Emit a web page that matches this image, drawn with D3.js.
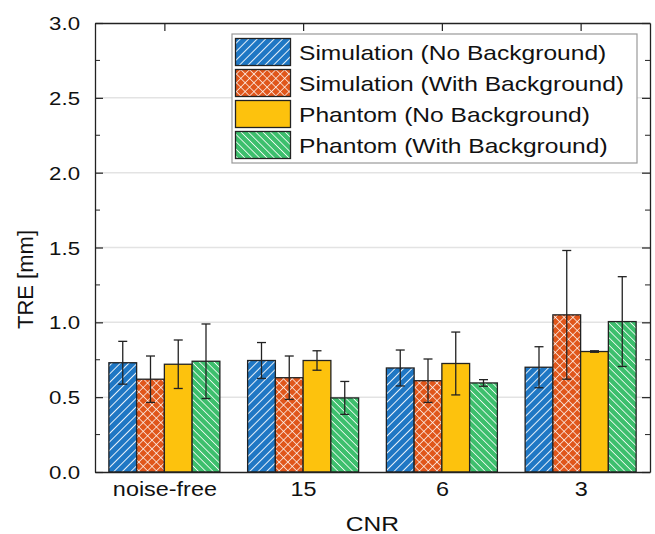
<!DOCTYPE html>
<html>
<head>
<meta charset="utf-8">
<script src="https://cdn.jsdelivr.net/npm/d3@7"></script>
<style>
  body { margin: 0; background: #fff; }
  svg text { font-family: "Liberation Sans", Arial, sans-serif; fill: #111; }
</style>
</head>
<body>
<svg id="chart" width="655" height="534"></svg>
<script>
// categories on the x axis
const categories = ["noise-free", "15", "6", "3"];
const seriesNames = [
  "Simulation (No Background)",
  "Simulation (With Background)",
  "Phantom (No Background)",
  "Phantom (With Background)"
];
// mean TRE per series, one value per category
const simNoBg   = [0.73, 0.745, 0.695, 0.70];
const simWithBg = [0.62, 0.63, 0.61, 1.05];
const phNoBg    = [0.72, 0.745, 0.725, 0.805];
const phWithBg  = [0.74, 0.495, 0.595, 1.005];
// error (± sd) per series
const simNoBgErr   = [0.143, 0.12, 0.12, 0.137];
const simWithBgErr = [0.155, 0.145, 0.145, 0.43];
const phNoBgErr    = [0.162, 0.065, 0.21, 0.005];
const phWithBgErr  = [0.249, 0.11, 0.022, 0.30];
const yTicks = [0, 0.5, 1.0, 1.5, 2.0, 2.5, 3.0];

const series = [
  { name: seriesNames[0], values: simNoBg,   err: simNoBgErr,   color: "#1f77c4", pat: "p-blue" },
  { name: seriesNames[1], values: simWithBg, err: simWithBgErr, color: "#e0561b", pat: "p-orange" },
  { name: seriesNames[2], values: phNoBg,    err: phNoBgErr,    color: "#fdc20d", pat: null },
  { name: seriesNames[3], values: phWithBg,  err: phWithBgErr,  color: "#3dbf6d", pat: "p-green" }
];

const margin = { top: 23, right: 4, bottom: 62, left: 95 };
const W = 655, H = 534;
const innerW = W - margin.left - margin.right - 1;
const innerH = H - margin.top - margin.bottom;
// the reference's lettering is a bit wider than Arial
const STRETCH = 1.17;

const svg = d3.select("#chart");
const defs = svg.append("defs");

// hatch patterns
function stripePattern(id, color, angle, size, sw) {
  const p = defs.append("pattern")
    .attr("id", id)
    .attr("patternUnits", "userSpaceOnUse")
    .attr("width", size).attr("height", size)
    .attr("patternTransform", `rotate(${angle})`);
  p.append("rect").attr("width", size).attr("height", size).attr("fill", color);
  p.append("line").attr("x1", 0).attr("y1", 0).attr("x2", 0).attr("y2", size)
    .attr("stroke", "#fff").attr("stroke-width", sw);
  return p;
}
stripePattern("p-blue", series[0].color, 45, 6, 1.8);
stripePattern("p-green", series[3].color, -45, 5.2, 1.6);
const cross = stripePattern("p-orange", series[1].color, 45, 6.2, 1.4);
cross.append("line").attr("x1", 0).attr("y1", 0).attr("x2", 6.2).attr("y2", 0)
  .attr("stroke", "#fff").attr("stroke-width", 1.4);

const fillOf = s => s.pat ? `url(#${s.pat})` : s.color;

const g = svg.append("g").attr("transform", `translate(${margin.left},${margin.top})`);

// x is a linear scale over category index, Origin style
const x = d3.scaleLinear().domain([0.5, categories.length + 0.5]).range([0, innerW]);
const y = d3.scaleLinear().domain([0, 3]).range([innerH, 0]);
const barW = x(1.2) - x(1);

// grid lines
g.append("g").selectAll("line")
  .data(yTicks.filter(t => t > 0 && t < 3))
  .join("line")
  .attr("x1", 0).attr("x2", innerW)
  .attr("y1", d => y(d)).attr("y2", d => y(d))
  .attr("stroke", "#e3e3e3").attr("stroke-width", 1.5);

// bars
series.forEach((s, si) => {
  const off = -0.4 + si * 0.2;
  g.append("g").selectAll("rect")
    .data(s.values)
    .join("rect")
    .attr("x", (d, i) => x(i + 1 + off))
    .attr("y", d => y(d))
    .attr("width", barW)
    .attr("height", d => y(0) - y(d))
    .attr("fill", fillOf(s))
    .attr("stroke", "#222").attr("stroke-width", 1.3);

  // error bars
  const eb = g.append("g").attr("stroke", "#222").attr("stroke-width", 1.3);
  s.values.forEach((v, i) => {
    const cx = x(i + 1 + off + 0.1);
    const e = s.err[i];
    eb.append("line").attr("x1", cx).attr("x2", cx).attr("y1", y(v + e)).attr("y2", y(v - e));
    [v + e, v - e].forEach(t => {
      eb.append("line").attr("x1", cx - 4.5).attr("x2", cx + 4.5).attr("y1", y(t)).attr("y2", y(t));
    });
  });
});

// axes (ticks pointing inward)
const minor = d3.range(0.25, 3, 0.5);
const leftAx = g.append("g")
  .call(d3.axisLeft(y).tickValues(yTicks).tickFormat(d3.format(".1f")).tickSizeInner(-8).tickSizeOuter(0).tickPadding(15));
leftAx.append("g").selectAll("line").data(minor).join("line")
  .attr("x1", 0).attr("x2", 5).attr("y1", d => y(d)).attr("y2", d => y(d)).attr("stroke", "#222");
const rightAx = g.append("g").attr("transform", `translate(${innerW},0)`)
  .call(d3.axisRight(y).tickValues(yTicks).tickFormat("").tickSizeInner(-8).tickSizeOuter(0));
rightAx.append("g").selectAll("line").data(minor).join("line")
  .attr("x1", 0).attr("x2", -5).attr("y1", d => y(d)).attr("y2", d => y(d)).attr("stroke", "#222");
const bottomAx = g.append("g").attr("transform", `translate(0,${innerH})`)
  .call(d3.axisBottom(x).tickValues(d3.range(1, categories.length + 1))
    .tickFormat(d => categories[d - 1]).tickSizeInner(0).tickSizeOuter(0).tickPadding(10));
const topAx = g.append("g")
  .call(d3.axisTop(x).tickValues(d3.range(1, categories.length + 1))
    .tickFormat("").tickSizeInner(-8).tickSizeOuter(0));

[leftAx, rightAx, bottomAx, topAx].forEach(a => {
  a.select(".domain").attr("stroke", "#222").attr("stroke-width", 1.3);
  a.selectAll(".tick line").attr("stroke", "#222").attr("stroke-width", 1.2);
  a.selectAll("text").attr("font-size", 19).attr("fill", "#111")
    .style("font-family", "'Liberation Sans', Arial, sans-serif");
});
bottomAx.selectAll("text").attr("font-size", 20);
leftAx.selectAll(".tick text").attr("dy", "0.35em");

// axis titles
svg.append("text")
  .attr("transform", `translate(33,${margin.top + innerH / 2 + 32}) rotate(-90)`)
  .attr("text-anchor", "middle").attr("font-size", 22)
  .text("TRE [mm]");
svg.append("text").attr("class", "wide")
  .attr("x", margin.left + innerW / 2).attr("y", 531)
  .attr("text-anchor", "middle").attr("font-size", 21)
  .text("CNR");

// legend
const lg = svg.append("g").attr("transform", "translate(232,34)");
lg.append("rect").attr("width", 405).attr("height", 129)
  .attr("fill", "#fff").attr("stroke", "#999").attr("stroke-width", 1.2);
series.forEach((s, i) => {
  const row = lg.append("g").attr("transform", `translate(0,${4 + i * 31})`);
  row.append("rect").attr("x", 3.5).attr("y", 0.5).attr("width", 55).attr("height", 27)
    .attr("fill", fillOf(s)).attr("stroke", "#222").attr("stroke-width", 1.3);
  row.append("text").attr("class", "wide").attr("x", 67).attr("y", 21.5).attr("font-size", 21).text(s.name);
});

// widen horizontal lettering to match the reference
leftAx.selectAll(".tick text").classed("wide", true);
bottomAx.selectAll(".tick text").classed("wide", true);
svg.selectAll("text.wide").each(function () {
  const len = this.getComputedTextLength();
  d3.select(this).attr("textLength", len * STRETCH).attr("lengthAdjust", "spacingAndGlyphs");
});
</script>
</body>
</html>
